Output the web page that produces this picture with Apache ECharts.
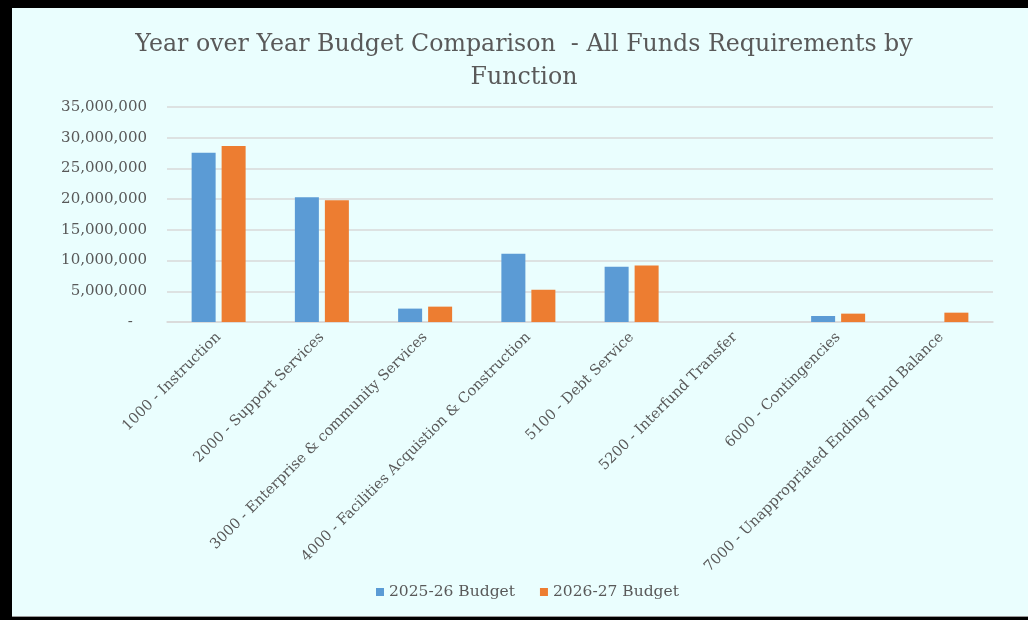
<!DOCTYPE html>
<html>
<head>
<meta charset="utf-8">
<script src="https://cdn.jsdelivr.net/npm/echarts@6/dist/echarts.min.js"></script>
<style>
html,body{margin:0;padding:0;background:#fff;}
#c{width:1028px;height:620px;}
</style>
</head>
<body>
<div id="c"></div>
<script>
const categories = [
  '1000 - Instruction',
  '2000 - Support Services',
  '3000 - Enterprise & community Services',
  '4000 - Facilities Acquistion & Construction',
  '5100 - Debt Service',
  '5200 - Interfund Transfer',
  '6000 - Contingencies',
  '7000 - Unappropriated Ending Fund Balance'
];
const seriesNames = ['2025-26 Budget', '2026-27 Budget'];
const budget2025 = [27550000, 20300000, 2180000, 11100000, 9000000, 0, 980000, 0];
const budget2026 = [28650000, 19800000, 2500000, 5250000, 9180000, 0, 1360000, 1520000];
const yTicks = [0, 5000000, 10000000, 15000000, 20000000, 25000000, 30000000, 35000000];

const serif = '"DejaVu Serif", "Liberation Serif", serif';
const chart = echarts.init(document.getElementById('c'));
chart.setOption({
  backgroundColor: '#EAFEFE',
  animation: false,
  graphic: [
    {type:'rect', shape:{x:0,y:0,width:1028,height:8}, style:{fill:'#000'}},
    {type:'rect', shape:{x:0,y:0,width:12,height:620}, style:{fill:'#000'}},
    {type:'rect', shape:{x:0,y:617,width:1028,height:3}, style:{fill:'#000'}},
    {type:'rect', shape:{x:12,y:616,width:1016,height:1}, style:{fill:'#9a9a9a'}}
  ],
  title: {
    text: 'Year over Year Budget Comparison  - All Funds Requirements by\nFunction',
    left: 519,
    textAlign: 'center',
    top: 23,
    textStyle: {fontFamily: serif, fontSize: 23.7, fontWeight: 'normal', color: '#595959', lineHeight: 33}
  },
  legend: {
    bottom: 15,
    left: 371,
    itemWidth: 8,
    itemHeight: 8,
    itemGap: 25,
    icon: 'rect',
    textStyle: {fontFamily: serif, fontSize: 15.5, color: '#595959'},
    data: seriesNames
  },
  grid: {left: 167, right: 35, top: 107, bottom: 298, containLabel: false},
  xAxis: {
    type: 'category',
    data: categories,
    axisLine: {show: true, lineStyle: {color: '#D9D9D9', width: 1.5}},
    axisTick: {show: false},
    axisLabel: {rotate: 45, interval: 0, margin: 13, fontFamily: serif, fontSize: 14.5, color: '#595959'}
  },
  yAxis: {
    type: 'value',
    min: yTicks[0],
    max: yTicks[yTicks.length - 1],
    interval: 5000000,
    axisLine: {show: false},
    axisTick: {show: false},
    splitLine: {lineStyle: {color: '#D9D9D9', width: 1.5}},
    axisLabel: {
      margin: 20,
      fontFamily: serif, fontSize: 15, color: '#595959',
      formatter: v => v === 0 ? '-   ' : v.toLocaleString('en-US')
    }
  },
  series: [
    {name: seriesNames[0], type: 'bar', data: budget2025, barWidth: 24, barGap: '25%',
     itemStyle: {color: '#5B9BD5'}},
    {name: seriesNames[1], type: 'bar', data: budget2026, barWidth: 24,
     itemStyle: {color: '#ED7D31'}}
  ]
});
</script>
</body>
</html>
